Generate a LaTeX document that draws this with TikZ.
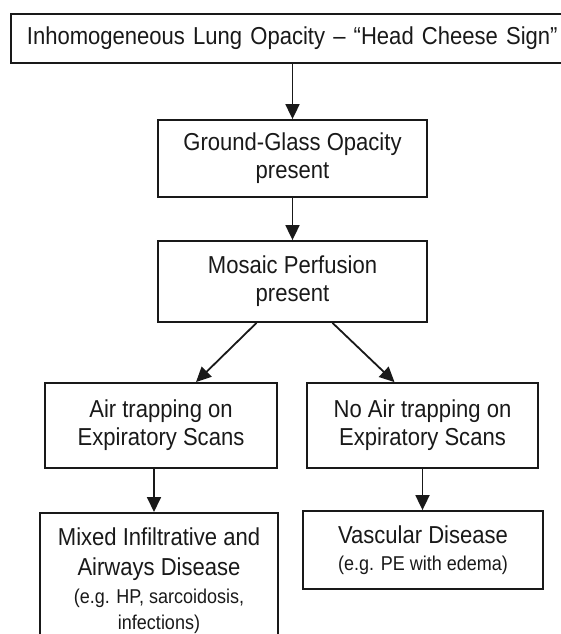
\documentclass[tikz,border=0pt]{standalone}
\usepackage{fontspec}
\setmainfont{Liberation Sans}[FakeStretch=0.9]
\usepackage{tikz}
\usetikzlibrary{arrows.meta,calc,positioning}
\definecolor{flowink}{RGB}{25,25,25}
\newcommand{\subnote}[1]{{\fontsize{20}{22}\selectfont #1}}

\begin{document}
\begin{tikzpicture}[x=1pt,y=-1pt,>={Triangle[length=15pt,width=14pt]},line join=miter,
  box/.style={draw=flowink,line width=1.8pt,align=center,inner sep=4pt,text=flowink,
    font=\fontsize{24.5}{28}\selectfont},
  flow/.style={->,draw=flowink,line width=1.8pt}]
\clip (0,0) rectangle (561,634);
\node[box,anchor=north west,align=left,text width=540pt,inner xsep=16pt,minimum height=49pt]
  (sign) at (10,13) {Inhomogeneous Lung Opacity – “Head Cheese Sign”};
\node[box,minimum width=269pt,minimum height=77pt] (ggo) at (292.5,158.5)
  {Ground-Glass Opacity\\present};
\node[box,minimum width=269pt,minimum height=81pt] (mosaic) at (292.5,281.5)
  {Mosaic Perfusion\\present};
\node[box,minimum width=232pt,minimum height=85pt] (trap) at (161,425.5)
  {Air trapping on\\Expiratory Scans};
\node[box,minimum width=231pt,minimum height=85pt] (notrap) at (422.5,425.5)
  {No Air trapping on\\Expiratory Scans};
\node[box,anchor=north,minimum width=238pt,inner ysep=15pt] (mixed) at (159,512)
  {Mixed Infiltrative and\\[2pt]Airways Disease\\\subnote{(e.g. HP, sarcoidosis,}\\[-2pt]\subnote{infections)}};
\node[box,minimum width=240pt,minimum height=78pt] (vasc) at (423,550)
  {Vascular Disease\\[-1pt]\subnote{(e.g. PE with edema)}};
% connectors
\draw[flow] (ggo.north |- sign.south) -- (ggo.north);
\draw[flow] (ggo.south) -- (mosaic.north);
\draw[flow] ($(mosaic.south)+(-36,0)$) -- ($(trap.north)+(35,0)$);
\draw[flow] ($(mosaic.south)+(40,0)$) -- ($(notrap.north)+(-28,0)$);
\draw[flow] ($(trap.south)+(-7,0)$) -- ($(trap.south |- mixed.north)+(-7,0)$);
\draw[flow] (notrap.south) -- (notrap.south |- vasc.north);
\end{tikzpicture}
\end{document}
